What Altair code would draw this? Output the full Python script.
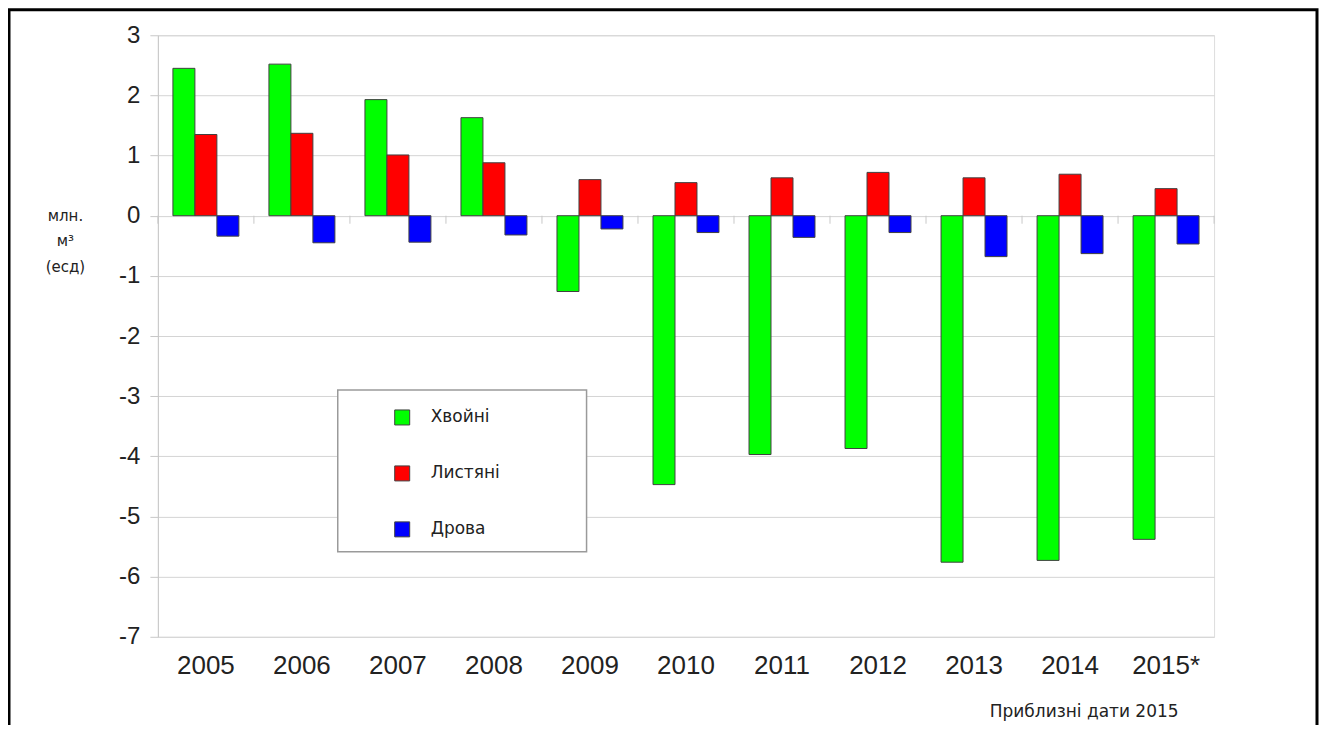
import altair as alt
import pandas as pd

years = ["2005", "2006", "2007", "2008", "2009", "2010", "2011", "2012", "2013", "2014", "2015*"]
series = ["Хвойні", "Листяні", "Дрова"]
hvoini = [2.45, 2.52, 1.93, 1.63, -1.26, -4.47, -3.97, -3.87, -5.76, -5.73, -5.38]
lystiani = [1.35, 1.37, 1.01, 0.88, 0.60, 0.55, 0.63, 0.72, 0.63, 0.69, 0.45]
drova = [-0.34, -0.45, -0.44, -0.32, -0.22, -0.28, -0.36, -0.28, -0.68, -0.63, -0.47]
colors = ["#00ff00", "#ff0000", "#0000ff"]
y_ticks = [3, 2, 1, 0, -1, -2, -3, -4, -5, -6, -7]
y_title = ["млн.", "м³", "(есд)"]
note = "Приблизні дати 2015"

rows = []
for s, vals in zip(series, [hvoini, lystiani, drova]):
    for yr, v in zip(years, vals):
        rows.append({"year": yr, "series": s, "value": v})
df = pd.DataFrame(rows)
yr_df = pd.DataFrame({"year": years})

W, H = 1057, 602
TICK_LEN = 8 / (H / 10.0)  # tick length below zero line, in data units

xscale = alt.Scale(paddingInner=0.313, paddingOuter=0.1565)
edge_scale = alt.Scale(domain=years, paddingInner=0, paddingOuter=0)
yscale = alt.Scale(domain=[-7, 3], nice=False, zero=False)

bars = alt.Chart(df).mark_bar(stroke="#404040", strokeWidth=1).encode(
    x=alt.X("year:N", sort=years, scale=xscale, title=None,
            axis=alt.Axis(labelAngle=0, labelFontSize=26, labelFont="Liberation Sans",
                          labelColor="#222222", ticks=False, domain=False, labelPadding=16,
                          grid=False)),
    xOffset=alt.XOffset("series:N", sort=series),
    y=alt.Y("value:Q", scale=yscale,
            axis=alt.Axis(values=y_ticks, grid=True, gridColor="#d4d4d4", domainColor="#c8c8c8",
                          tickColor="#c8c8c8", tickSize=8, labelFontSize=24,
                          labelFont="Liberation Sans", labelColor="#222222", labelPadding=10,
                          labelExpr="toString(datum.value)",
                          title=y_title, titleAngle=0, titleAlign="center",
                          titleBaseline="alphabetic", titleX=-93, titleY=185,
                          titleFont="DejaVu Sans", titleFontSize=15, titleFontWeight="normal",
                          titleColor="#222222", titleLineHeight=25.5)),
    color=alt.Color("series:N", sort=series,
                    scale=alt.Scale(domain=series, range=colors),
                    legend=alt.Legend(orient="none", legendX=236, legendY=374, title=None,
                                      symbolType="square", symbolSize=225,
                                      symbolStrokeColor="#404040", symbolStrokeWidth=1,
                                      labelFont="DejaVu Sans", labelFontSize=17,
                                      labelColor="#222222", labelOffset=20, rowPadding=37,
                                      padding=0)),
)

edge_ticks_start = alt.Chart(yr_df).mark_rule(color="#c8c8c8", strokeWidth=1).encode(
    x=alt.X("year:N", sort=years, scale=edge_scale, bandPosition=0, axis=None),
    y=alt.datum(0),
    y2=alt.datum(-TICK_LEN),
)
edge_ticks_end = alt.Chart(yr_df).mark_rule(color="#c8c8c8", strokeWidth=1).encode(
    x=alt.X("year:N", sort=years, scale=edge_scale, bandPosition=1, axis=None),
    y=alt.datum(0),
    y2=alt.datum(-TICK_LEN),
).transform_filter(alt.datum.year == years[-1])

one = pd.DataFrame({"a": [0]})
legend_box = alt.Chart(one).mark_rect(fill="white", stroke="#9a9a9a", strokeWidth=1.5).encode(
    x=alt.value(180), x2=alt.value(429), y=alt.value(355), y2=alt.value(517)
)

frame = alt.Chart(one).mark_rect(fill=None, stroke="black", strokeWidth=3, clip=False).encode(
    x=alt.value(-149), x2=alt.value(1160), y=alt.value(-25.5), y2=alt.value(760)
)

note_text = alt.Chart(one).mark_text(font="DejaVu Sans", fontSize=17, color="#222222",
                                     align="center", baseline="middle").encode(
    x=alt.value(927), y=alt.value(677), text=alt.value(note)
)

chart = alt.layer(legend_box, edge_ticks_start, edge_ticks_end, bars, note_text, frame).resolve_scale(
    x="independent"
).properties(
    width=W, height=H,
    autosize=alt.AutoSizeParams(type="none"),
    padding={"left": 150, "top": 27, "right": 105, "bottom": 88},
).configure_view(stroke=None).configure(background="white")

chart.save("out.html", embed_options={"renderer": "svg", "actions": False})
